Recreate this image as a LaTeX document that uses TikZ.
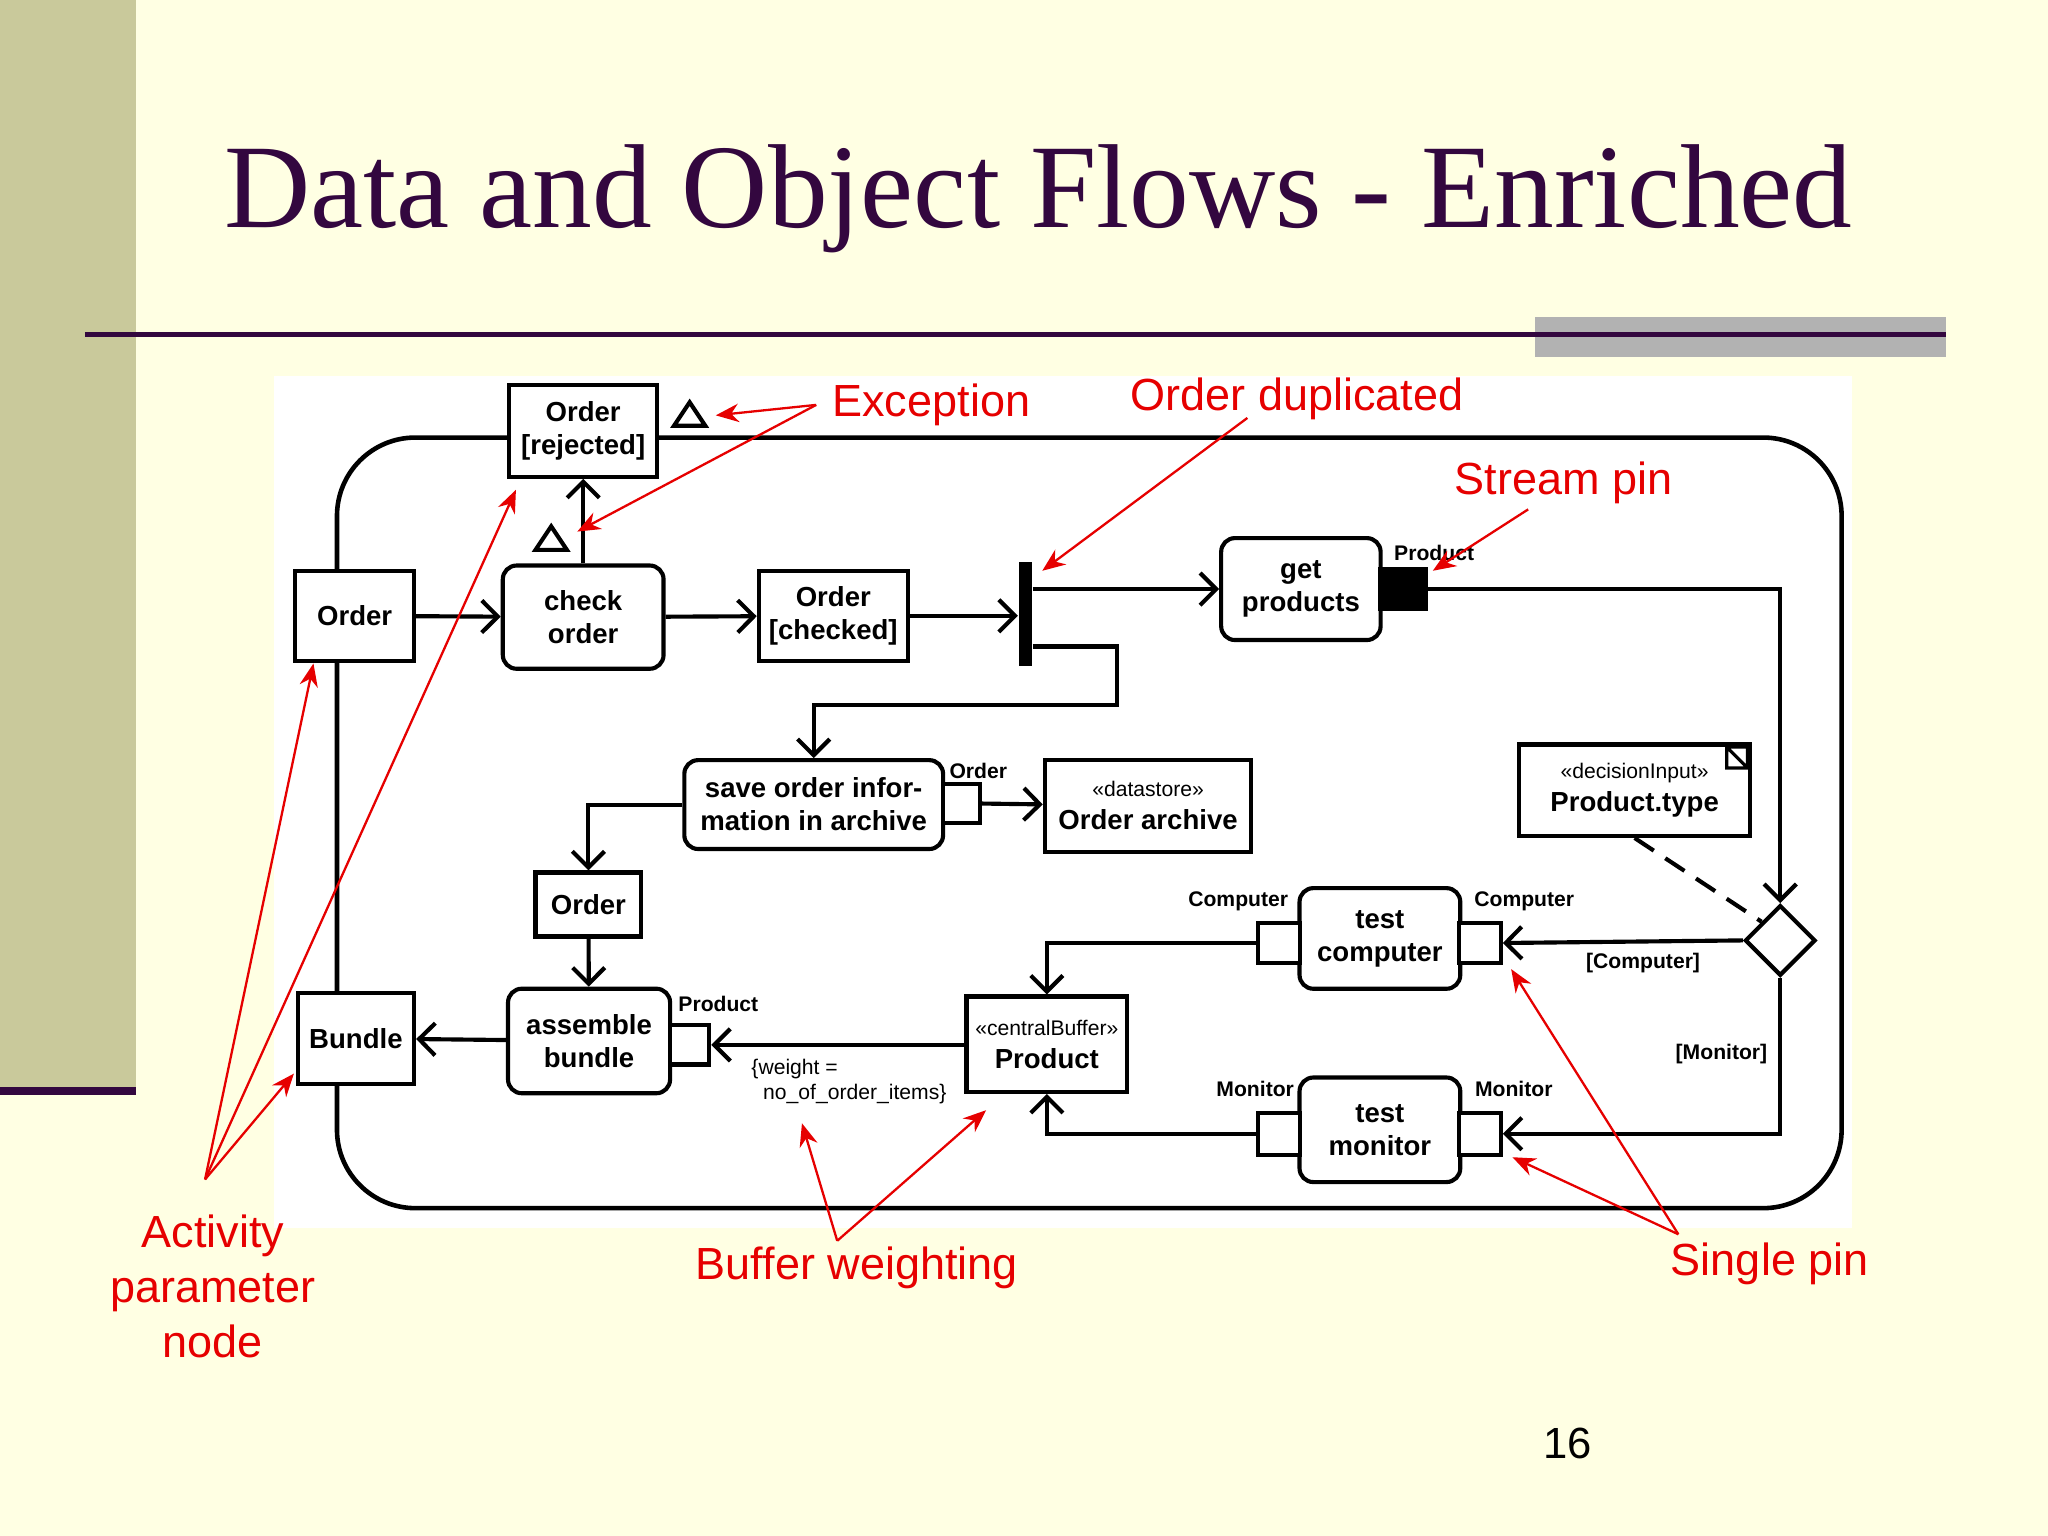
\documentclass[tikz,border=0pt]{standalone}
\usepackage{fontspec}
\setmainfont{Liberation Serif}
\setsansfont{Liberation Sans}
\usetikzlibrary{arrows.meta,shapes.geometric,positioning}
\definecolor{slidebg}{HTML}{FFFFE3}
\definecolor{sidebar}{HTML}{C9C99B}
\definecolor{titlecol}{HTML}{33073F}
\definecolor{annred}{HTML}{E60000}
\tikzset{
  box/.style={draw, line width=0.9pt, fill=white, inner sep=0pt, align=center,
    font=\sffamily\bfseries\fontsize{6}{7.2}\selectfont},
  act/.style={box, rounded corners=3pt},
  pin/.style={draw, line width=0.9pt, fill=white, inner sep=0pt},
  small/.style={font=\sffamily\bfseries\fontsize{4.6}{5.5}\selectfont, inner sep=0pt},
  flow/.style={line width=0.9pt, -{Straight Barb[length=3.5pt,width=7pt]}},
  ann/.style={text=annred, font=\sffamily\fontsize{9.8}{12}\selectfont, align=center},
  pointer/.style={annred, line width=0.5pt, -{Stealth[length=5pt,width=4pt]}}
}
\newcommand{\stereo}[1]{{\mdseries\fontsize{4.6}{5.5}\selectfont «#1»}}
\begin{document}
\begin{tikzpicture}[x=0.01cm, y=-0.01cm]
% slide
\fill[slidebg] (0,0) rectangle (1568,1176);
\useasboundingbox (0,0) rectangle (1568,1176);
\fill[sidebar] (0,0) rectangle (104,832);
\fill[titlecol] (0,832) rectangle (104,838);
\fill[black!30] (1175,243) rectangle (1490,273);
\draw[titlecol, line width=1pt] (65,256) -- (1490,256);
\node[text=titlecol, font=\fontsize{26}{30}\selectfont] (title) at (795,152) {Data and Object Flows - Enriched};
\fill[white] (210,288) rectangle (1418,940);

% activity frame
\draw[line width=1pt, rounded corners=0.6cm] (258,335) rectangle (1410,925);

% nodes
\node[box, minimum width=1.13cm, minimum height=0.70cm] (rejected) at (446.5,330) {Order\\{[}rejected{]}};
\node[act, minimum width=1.23cm, minimum height=0.79cm] (check) at (446.5,472.5) {check\\order};
\node[box, minimum width=0.91cm, minimum height=0.69cm] (orderin) at (271.5,471.5) {Order};
\node[box, minimum width=1.14cm, minimum height=0.69cm] (checked) at (638,471.5) {Order\\{[}checked{]}};
\node[fill=black, minimum width=0.1cm, minimum height=0.8cm, inner sep=0pt] (fork) at (785,470) {};
\node[act, minimum width=1.22cm, minimum height=0.78cm] (getprod) at (996,451) {get\\products};
\node[pin, fill=black, minimum width=0.35cm, minimum height=0.30cm] (gppin) at (1074.5,451) {};
\node[act, minimum width=1.98cm, minimum height=0.68cm] (save) at (623,616) {save order infor-\\mation in archive};
\node[pin, minimum width=0.28cm, minimum height=0.30cm] (savepin) at (736,615) {};
\node[box, minimum width=1.58cm, minimum height=0.70cm] (archive) at (879,617) {\stereo{datastore}\\Order archive};
\node[box, minimum width=1.77cm, minimum height=0.70cm] (decin) at (1251.5,605) {\stereo{decisionInput}\\Product.type};
\node[box, minimum width=0.81cm, minimum height=0.49cm] (ordermid) at (450.5,692.5) {Order};
\node[act, minimum width=1.24cm, minimum height=0.80cm] (assemble) at (451,797) {assemble\\bundle};
\node[pin, minimum width=0.30cm, minimum height=0.30cm] (aspin) at (528,800) {};
\node[box, minimum width=0.89cm, minimum height=0.70cm] (bundle) at (272.5,795) {Bundle};
\node[box, minimum width=1.23cm, minimum height=0.73cm] (buffer) at (801.5,799.5) {\stereo{centralBuffer}\\Product};
\node[act, minimum width=1.23cm, minimum height=0.77cm] (testc) at (1056.5,718.5) {test\\computer};
\node[pin, minimum width=0.32cm, minimum height=0.30cm] (tcin) at (1133,722) {};
\node[pin, minimum width=0.32cm, minimum height=0.30cm] (tcout) at (979,722) {};
\node[act, minimum width=1.23cm, minimum height=0.80cm] (testm) at (1056.5,865) {test\\monitor};
\node[pin, minimum width=0.32cm, minimum height=0.32cm] (tmin) at (1133,868) {};
\node[pin, minimum width=0.32cm, minimum height=0.32cm] (tmout) at (979,868) {};
\node[draw, line width=0.9pt, fill=white, diamond, minimum width=0.54cm, minimum height=0.54cm, inner sep=0pt] (dec) at (1363,720) {};

% note fold and exception marks
\draw[line width=0.7pt] (1322,572) rectangle (1338,588) (1322,572) -- (1338,588);
\draw[line width=0.9pt] (516,326) -- (528,308) -- (540,326) -- cycle;
\draw[line width=0.9pt] (410,421) -- (422,403) -- (434,421) -- cycle;

% pin labels
\node[small] (lgp) at (1098,423) {Product};
\node[small] (lsave) at (749,590) {Order};
\node[small] (las) at (550,769) {Product};
\node[small] (ltc1) at (948,690) {Computer};
\node[small] (ltc2) at (1167,690) {Computer};
\node[small] (ltm1) at (961,834) {Monitor};
\node[small] (ltm2) at (1159,834) {Monitor};
\node[small] (gcomp) at (1258,737) {[Computer]};
\node[small] (gmon) at (1318,807) {[Monitor]};
\node[small, align=left, font=\sffamily\fontsize{4.6}{5.5}\selectfont] (weight) at (650,828) {\{weight =\\ \ \ no\_of\_order\_items\}};

% flows
\draw[flow] (orderin) -- (check);
\draw[flow] (check) -- (rejected);
\draw[flow] (check) -- (checked);
\draw[flow] (checked) -- (fork.west |- checked);
\draw[flow] (fork.east |- getprod) -- (getprod);
\draw[flow] ([yshift=-0.25cm]fork.east) -| (855,540) -| (save.north);
\draw[flow] (save.west) -| (ordermid.north);
\draw[flow] (savepin) -- (archive);
\draw[flow] (ordermid) -- (assemble);
\draw[flow] (assemble) -- (bundle);
\draw[flow] (gppin.east) -| (dec.north);
\draw[flow] (dec.west) -- (tcin.east);
\draw[flow] (dec.south) |- (tmin.east);
\draw[flow] (tcout.west) -| (buffer.north);
\draw[flow] (tmout.west) -| (buffer.south);
\draw[flow] (buffer.west |- aspin) -- (aspin.east);
\draw[line width=0.9pt, dash pattern=on 5pt off 3pt] (decin.south) -- (dec.north west);

% annotations
\node[ann] (exc) at (713,310) {Exception};
\node[ann] (dup) at (993,305) {Order duplicated};
\node[ann] (stream) at (1197,370) {Stream pin};
\node[ann] (param) at (163,985) {Activity\\parameter\\node};
\node[ann] (weighting) at (656,971) {Buffer weighting};
\node[ann] (single) at (1355,968) {Single pin};
\node[font=\sffamily\fontsize{9.5}{11}\selectfont] (page) at (1200,1105) {16};
\draw[pointer] (exc.west) -- (548,318);
\draw[pointer] (exc.west) -- (442,407);
\draw[pointer] (955,320) -- (798,437);
\draw[pointer] (1170,390) -- (1097,437);
\draw[pointer] (157,903) -- (240,508);
\draw[pointer] (157,903) -- (395,375);
\draw[pointer] (157,903) -- (225,822);
\draw[pointer] (641,950) -- (614,860);
\draw[pointer] (641,950) -- (755,850);
\draw[pointer] (1285,945) -- (1157,742);
\draw[pointer] (1285,945) -- (1158,886);
\end{tikzpicture}
\end{document}
